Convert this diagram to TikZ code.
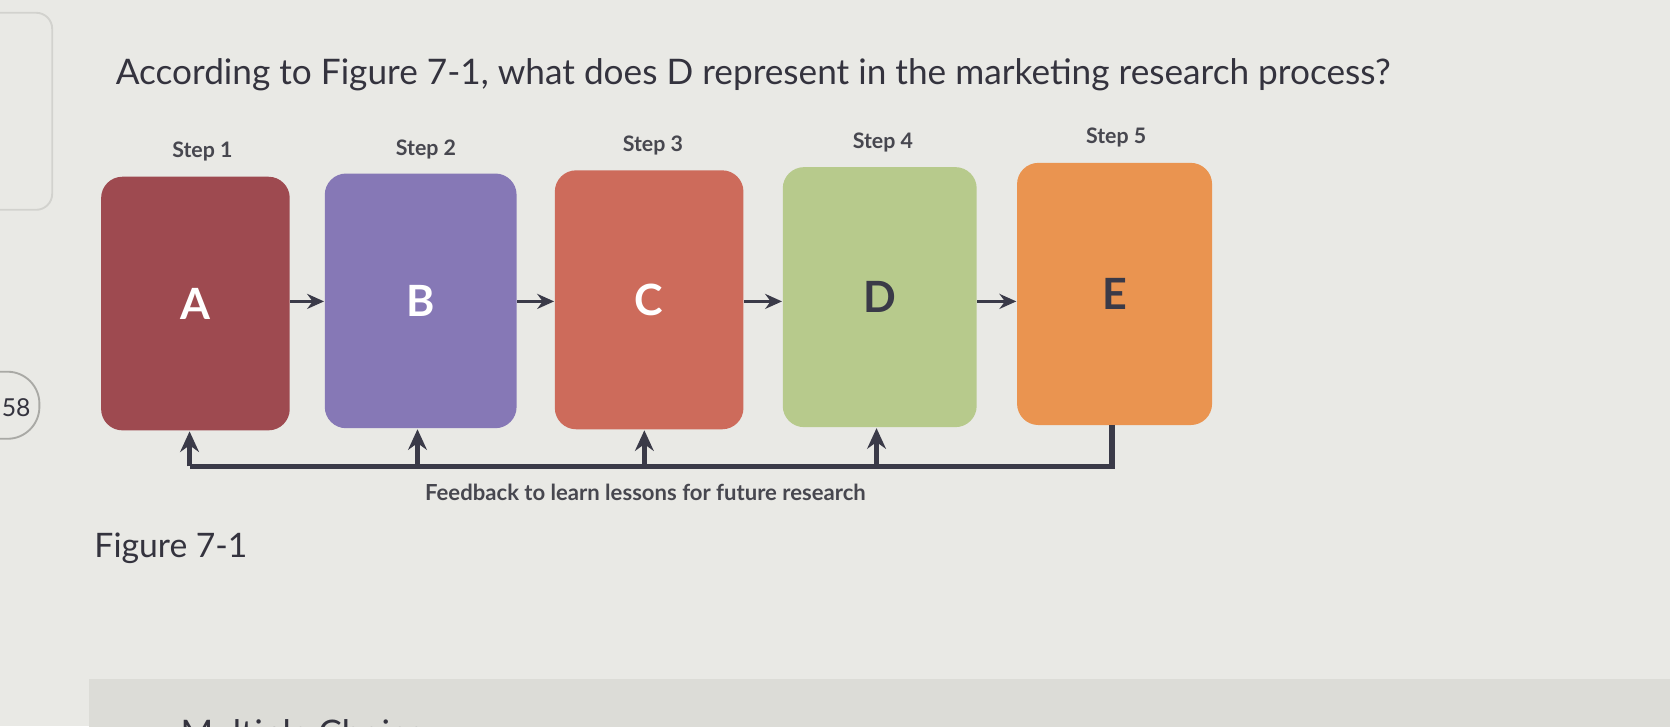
\documentclass[tikz,border=0pt]{standalone}
\usepackage{fontspec}
\setmainfont{Lato}
\usetikzlibrary{arrows.meta}
\definecolor{bgc}{HTML}{E9E9E5}
\definecolor{barc}{HTML}{DCDCD7}
\definecolor{panelc}{HTML}{D2D2CE}
\definecolor{badgec}{HTML}{A9A9A5}
\definecolor{colA}{HTML}{9E4A50}
\definecolor{colB}{HTML}{8678B6}
\definecolor{colC}{HTML}{CD6B5B}
\definecolor{colD}{HTML}{B7CA8C}
\definecolor{colE}{HTML}{EA9450}
\definecolor{darkc}{HTML}{3A3A48}
\definecolor{txtc}{HTML}{34333E}
\definecolor{stepc}{HTML}{47474F}
\begin{document}
\begin{tikzpicture}[x=0.01cm,y=-0.01cm,
  box/.style={rounded corners=0.2cm, inner sep=0pt, font=\fontsize{11.5}{13}\selectfont\bfseries},
  steplabel/.style={anchor=base, inner sep=0pt, text=stepc, font=\fontsize{5.7}{7}\selectfont\bfseries},
  flow/.style={draw=darkc, line width=0.9pt, -{Stealth[length=4.5pt,width=4pt]}},
  fbline/.style={draw=darkc, line width=1.4pt},
  fbarrow/.style={draw=darkc, line width=1.4pt, -{Stealth[length=5.5pt,width=5pt]}},
  bigtext/.style={anchor=base west, inner sep=0pt, text=txtc, font=\fontsize{9.4}{11}\selectfont}]
\useasboundingbox (0,0) rectangle (1568,682);
\fill[bgc] (0,0) rectangle (1568,682);
% side panel and badge
\draw[panelc, line width=0.5pt, rounded corners=0.15cm] (-40,12) rectangle (49,197);
\draw[badgec, line width=0.5pt, rounded corners=0.3cm] (-40,349) rectangle (37,412);
\node[anchor=base west, inner sep=0pt, text=txtc, font=\fontsize{6.6}{8}\selectfont] (badge) at (1,391) {58};
% bottom bar
\begin{scope}
\clip (0,0) rectangle (1568,682);
\fill[barc] (84,638) rectangle (1600,720);
\node[bigtext] (mc) at (169,700) {Multiple Choice};
\end{scope}
% question
\node[bigtext] (q) at (108,79) {According to Figure 7-1, what does D represent in the marketing research process?};
\node[bigtext, font=\fontsize{9}{11}\selectfont] (fig) at (88,523) {Figure 7-1};
% boxes
\node[box, fill=colA, text=white, minimum width=1.77cm, minimum height=2.38cm] (A) at (183.5,285) {A};
\node[box, fill=colB, text=white, minimum width=1.80cm, minimum height=2.39cm] (B) at (395,282.5) {B};
\node[box, fill=colC, text=white, minimum width=1.77cm, minimum height=2.43cm] (C) at (609.5,281.5) {C};
\node[box, fill=colD, text=darkc, minimum width=1.82cm, minimum height=2.44cm] (D) at (826,279) {D};
\node[box, fill=colE, text=darkc, minimum width=1.83cm, minimum height=2.46cm] (E) at (1046.5,276) {E};
% step labels
\node[steplabel] (s1) at (190,148) {Step 1};
\node[steplabel] (s2) at (400,146) {Step 2};
\node[steplabel] (s3) at (613,142) {Step 3};
\node[steplabel] (s4) at (829,139) {Step 4};
\node[steplabel] (s5) at (1048,135) {Step 5};
% flow arrows
\coordinate (row) at (0,283);
\draw[flow] (A.east |- row) -- (B.west |- row);
\draw[flow] (B.east |- row) -- (C.west |- row);
\draw[flow] (C.east |- row) -- (D.west |- row);
\draw[flow] (D.east |- row) -- (E.west |- row);
% feedback loop
\coordinate (fA) at (178,438);
\coordinate (fB) at (392,438);
\coordinate (fC) at (605,438);
\coordinate (fD) at (823,438);
\coordinate (fE) at (1044,438);
\coordinate (eb) at (1044,399);
\draw[fbline, line join=miter] (eb) -- (fE) -- (fA);
\draw[fbarrow] (fA) -- (178,405);
\draw[fbarrow] (fB) -- (392,403);
\draw[fbarrow] (fC) -- (605,404);
\draw[fbarrow] (fD) -- (823,402);
\node[anchor=base, inner sep=0pt, text=stepc, font=\fontsize{5.9}{7}\selectfont\bfseries] (fbt) at (606,470) {Feedback to learn lessons for future research};
\end{tikzpicture}
\end{document}
